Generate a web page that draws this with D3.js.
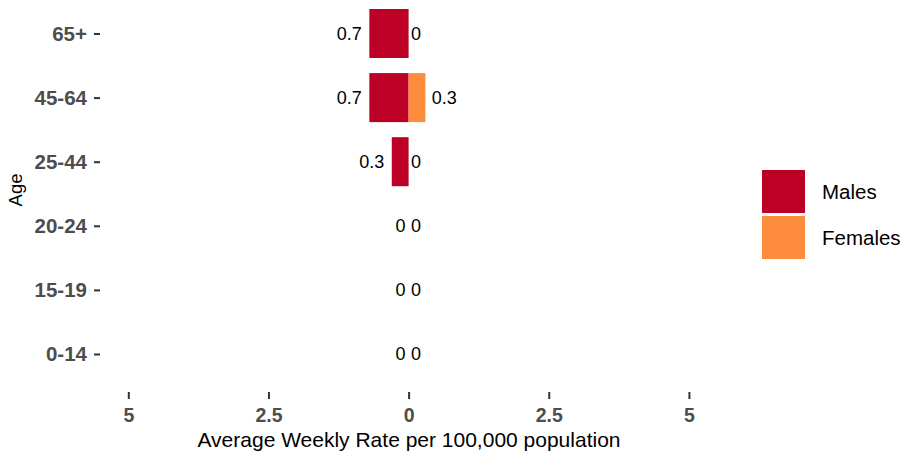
<!DOCTYPE html>
<html><head><meta charset="utf-8">
<script src="https://cdn.jsdelivr.net/npm/d3@7"></script>
<style>body{margin:0;background:#fff}svg{display:block;font-family:"Liberation Sans",Arial,sans-serif}</style>
</head><body><svg id="c" width="904" height="451"></svg>
<script>
const ages = ["0-14","15-19","20-24","25-44","45-64","65+"];
const males = [0,0,0,0.3,0.7,0.7];
const females = [0,0,0,0,0.3,0];
const xTicks = [-5,-2.5,0,2.5,5];
const seriesNames = ["Males","Females"];
const colors = ["#BD0026","#FD8D3C"];

const svg = d3.select("#c");
const x = d3.scaleLinear().domain([-5,5]).range([128.3,688.9]);
const y = d3.scalePoint().domain(ages.slice().reverse()).range([33.5,354]);
const barH = 49;

const rows = ages.map((a,i)=>({age:a,m:males[i],f:females[i]}));

// bars
svg.selectAll("rect.m").data(rows).join("rect").attr("class","m")
  .attr("x",d=>x(-d.m)).attr("width",d=>x(0)-x(-d.m))
  .attr("y",d=>y(d.age)-barH/2).attr("height",barH).attr("fill",colors[0]);
svg.selectAll("rect.f").data(rows).join("rect").attr("class","f")
  .attr("x",x(0)).attr("width",d=>x(d.f)-x(0))
  .attr("y",d=>y(d.age)-barH/2).attr("height",barH).attr("fill",colors[1]);

// value labels
const fmt = v => String(v);
svg.selectAll("text.ml").data(rows).join("text").attr("class","ml")
  .attr("y",d=>y(d.age)).attr("dy","0.35em").attr("text-anchor","end")
  .attr("font-size",18).attr("fill","#000").text(d=>fmt(d.m))
  .each(function(d){const w=this.getComputedTextLength(); d3.select(this).attr("x",x(-d.m)-0.3*w);});
svg.selectAll("text.fl").data(rows).join("text").attr("class","fl")
  .attr("y",d=>y(d.age)).attr("dy","0.35em").attr("text-anchor","start")
  .attr("font-size",18).attr("fill","#000").text(d=>fmt(d.f))
  .each(function(d){const w=this.getComputedTextLength(); d3.select(this).attr("x",x(d.f)+0.25*w);});

// x axis
const xa = svg.append("g").attr("transform","translate(0,392)")
  .call(d3.axisBottom(x).tickValues(xTicks).tickSize(7).tickPadding(9).tickFormat(d=>String(Math.abs(d))));
xa.select(".domain").remove();
xa.selectAll("line").attr("stroke","#333").attr("stroke-width",2);
xa.selectAll("text").attr("font-size",19.5).attr("font-weight","bold").attr("fill","#4D4D4D").attr("font-family","Liberation Sans, Arial, sans-serif");

// y axis
const ya = svg.append("g").attr("transform","translate(100,0)")
  .call(d3.axisLeft(y).tickSize(6).tickPadding(7));
ya.select(".domain").remove();
ya.selectAll("line").attr("stroke","#333").attr("stroke-width",2);
ya.selectAll("text").attr("font-size",20.5).attr("font-weight","bold").attr("fill","#4D4D4D").attr("font-family","Liberation Sans, Arial, sans-serif");

// axis titles
svg.append("text").attr("x",409).attr("y",446.5).attr("text-anchor","middle")
  .attr("font-size",21).attr("fill","#000").text("Average Weekly Rate per 100,000 population");
svg.append("text").attr("transform","translate(22,190) rotate(-90)").attr("text-anchor","middle")
  .attr("font-size",18.5).attr("fill","#000").text("Age");

// legend
const lg = svg.append("g");
seriesNames.forEach((n,i)=>{
  lg.append("rect").attr("x",762).attr("y",170+i*46).attr("width",43).attr("height",43).attr("fill",colors[i]);
  lg.append("text").attr("x",822).attr("y",170+i*46+21.5).attr("dy","0.35em")
    .attr("font-size",20.5).attr("fill","#000").text(n);
});
</script></body></html>
